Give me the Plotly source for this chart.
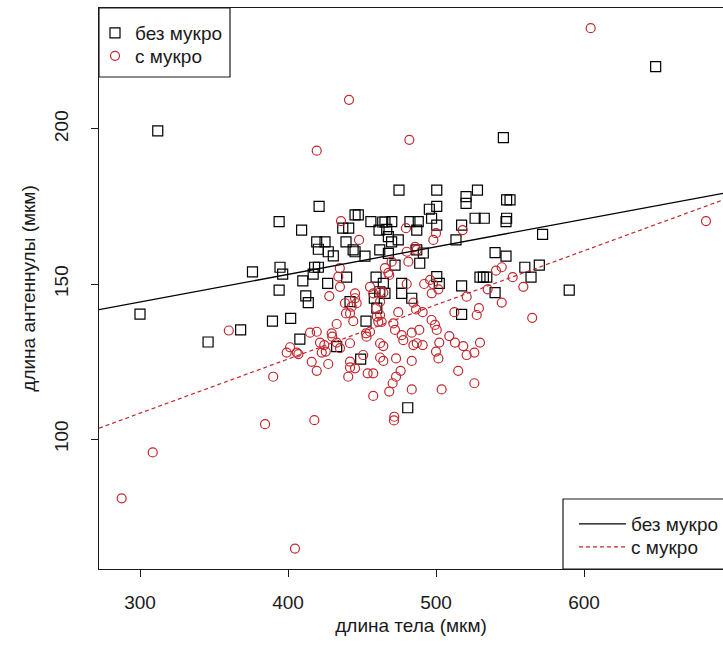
import plotly.graph_objects as go

# ---- data ----
no_mucro_x = [300, 312, 346, 368, 376, 389.5, 394, 409.2, 421, 445.3, 447.5, 437, 441, 456, 464, 465.5,
              419.4, 425, 439.2, 420.5, 427.2, 444, 445.3, 430.6, 452, 394.6, 396.4, 418, 420.5, 417,
              410, 394, 426.8, 439.6, 412, 413.7, 459.5, 464.4, 462, 465.5, 441.9, 458.3, 460, 401.8,
              452.7, 408, 432.9, 449.1, 475, 500.5, 528, 520.3, 520.3, 547.7, 550, 495.5, 500.5, 497,
              526.4, 532.6, 547.7, 547.3, 470.1, 482.4, 488, 500.5, 517.3, 487, 474.5, 470, 467.8,
              513.5, 572, 467.8, 487, 491.4, 489, 472.3, 539.9, 547.3, 560, 569.8, 564.2, 529.7, 532,
              534.3, 500.5, 502.2, 517.3, 539.9, 590, 476.8, 476.8, 483.6, 517.3, 480.9, 545.5, 648.4,
              461.5, 466.7, 462]
no_mucro_y = [140.3, 199.4, 131.3, 135.2, 153.9, 138, 170.1, 167.4, 175, 172.3, 172.3, 168, 168, 170.1, 170, 170,
              163.6, 163.6, 163.6, 161.2, 160.4, 161, 160.4, 159.1, 159, 155.4, 153.2, 155.4, 155.4, 153.2,
              151, 148, 150.2, 152.2, 146.2, 144, 152.2, 150.2, 147.5, 147, 144.3, 145.4, 142.2, 138.9,
              138, 132.2, 129.8, 125.8, 180.3, 180.3, 180.3, 178.2, 176, 177.1, 177.1, 174.1, 175, 171.2,
              171.2, 171.2, 171.2, 170.1, 170.1, 170.1, 170.1, 169, 169, 167.4, 164.2, 163.6, 165.3,
              164.2, 166, 159.9, 161, 160, 156.7, 156.1, 160.1, 159, 155.4, 156.1, 152.2, 152.2, 152.2,
              152.2, 152.4, 150.2, 149.4, 147.2, 148, 150.2, 147, 145.4, 140.2, 110.1, 197.2, 220.1,
              167.4, 167.6, 161]

mucro_x = [287.6, 308.6, 384.5, 404.7, 417.8, 471.6, 480.2, 492, 498, 501.6, 497.1, 462.2, 464.4, 484.7,
           486.5, 491, 474.5, 520.7, 534.9, 544.4, 559, 512.4, 529, 527.5, 565, 462.2, 463.3, 471.2, 472.3,
           497, 499.3, 500.5, 483.6, 488.7, 476.8, 477.9, 462.2, 464.4, 484.7, 487, 491, 502.2, 509, 512.8,
           518.4, 529.7, 525.9, 520.7, 500, 501.6, 462.2, 464.4, 473, 483.6, 476.1, 473, 470.7, 468.4, 515,
           525.9, 483.6, 503.8, 471.8, 414.9, 419.4, 429.5, 429.9, 401.4, 399.1, 405.9, 407, 421.6, 424.5,
           425.5, 422.8, 432.9, 435.1, 441.9, 452.7, 455.4, 416, 427.2, 419.4, 390, 441.9, 441.9, 445.3,
           450.8, 440.7, 453.8, 457.6, 457.6, 419.4, 435.8, 448, 435, 465.5, 467.8, 434, 435.1, 427.9,
           455.4, 457.6, 445.3, 445.3, 446.4, 438.5, 443, 441.9, 444.1, 439.2, 459.5, 460, 461, 432.9,
           453.1, 479.7, 518, 500, 498.2, 485.8, 487, 480.2, 481.3, 470, 468.4, 544.4, 540.5, 551.8, 496,
           682.4, 604.5, 441.2, 482, 360, 462.2]
mucro_y = [80.9, 95.7, 104.8, 64.7, 106.1, 106, 150, 150, 150, 148.3, 147, 147.5, 147.2, 144,
           141.8, 140.9, 140.9, 145.9, 148.3, 144, 149.1, 140.9, 142.2, 140, 139.1, 140, 137.8, 137.3, 135.2,
           138.4, 136.8, 135.2, 134.3, 135.2, 133.5, 131.9, 130.9, 130, 130.3, 130.9, 130.3, 131.1, 133.2, 131.1,
           130, 131.1, 127.9, 127.1, 128.2, 126, 126.3, 125.2, 126, 125.2, 122, 120.1, 118, 115.3, 122,
           118, 116, 116, 107.2, 134.3, 134.6, 134.1, 133, 129.6, 127.9, 127.9, 127.4, 131.1, 130.3,
           128.2, 127.9, 131.1, 129.3, 130.9, 134.1, 134.6, 124.9, 124.2, 122, 120.1, 125, 123.1, 122.8,
           127.1, 120.1, 121.2, 121.2, 113.9, 193, 170.3, 164.2, 155.1, 155.1, 153.6, 152.4, 149.1, 146.1,
           149.1, 147, 147, 145.4, 143.8, 143.8, 142.7, 140.5, 138, 140.5, 142.2, 139.5, 137.8, 137.1,
           133, 168, 167.4, 166.4, 164.2, 162, 161, 160.4, 157.2, 157.2, 152.9, 155.4, 154.3, 152.2, 151.3,
           170.3, 232.5, 209.4, 196.5, 135, 144.3]

# regression lines (intercept, slope)
fit_no_mucro = (117.5, 0.089)
fit_mucro = (55.96, 0.1746)

series_names = ["без мукро", "с мукро"]
x_ticks = [300, 400, 500, 600]
y_ticks = [100, 150, 200]
x_title = "длина тела (мкм)"
y_title = "длина антеннулы (мкм)"

X_RANGE = [272.3, 693.9]
Y_RANGE = [58.1, 239.0]

FONT = "Liberation Sans, Arial, sans-serif"
FS = 19
RED = "#c0282d"
INK = "#1a1a1a"

# plot area in pixels (for placing the legend boxes)
PL, PR, PT, PB = 99, 723, 8, 569
def px_x(p):
    return (p - PL) / (PR - PL)
def px_y(p):
    return (PB - p) / (PB - PT)

fig = go.Figure()
fig.add_trace(go.Scatter(x=no_mucro_x, y=no_mucro_y, mode="markers", name=series_names[0],
                         marker=dict(symbol="square-open", size=10, color="black", line=dict(width=1.2)),
                         legend="legend", showlegend=True))
fig.add_trace(go.Scatter(x=mucro_x, y=mucro_y, mode="markers", name=series_names[1],
                         marker=dict(symbol="circle-open", size=9, color=RED, line=dict(width=1.2)),
                         legend="legend2", showlegend=True))

lx = X_RANGE
for (b0, b1), name, style, lg in [
        (fit_no_mucro, series_names[0], dict(color="black", width=1.3, dash="solid"), "legend3"),
        (fit_mucro, series_names[1], dict(color=RED, width=1.2, dash="4px,3px"), "legend4")]:
    fig.add_trace(go.Scatter(x=lx, y=[b0 + b1 * v for v in lx], mode="lines", name=name,
                             line=style, legend=lg, showlegend=True))

axis_common = dict(showline=True, linecolor=INK, linewidth=1, ticks="outside", ticklen=7,
                   tickcolor=INK, showgrid=False, zeroline=False,
                   tickfont=dict(size=FS, family=FONT, color=INK))

def leg(xpx, ypx, itemwidth):
    return dict(x=px_x(xpx), y=px_y(ypx), xanchor="left", yanchor="top", bgcolor="rgba(0,0,0,0)",
                borderwidth=0, font=dict(size=FS, family=FONT, color=INK), itemwidth=itemwidth,
                tracegroupgap=0, visible=True)

fig.update_layout(
    width=723, height=664,
    showlegend=True,
    margin=dict(l=PL, r=0, t=PT, b=664 - PB, autoexpand=False),
    plot_bgcolor="white", paper_bgcolor="white",
    font=dict(family=FONT, size=FS, color=INK),
    xaxis=dict(range=X_RANGE, tickvals=x_ticks, mirror=True, ticklabelstandoff=9,
               title=dict(text=x_title, font=dict(size=FS, family=FONT, color=INK), standoff=6),
               **axis_common),
    yaxis=dict(range=Y_RANGE, tickvals=y_ticks, tickangle=-90, ticklabelstandoff=15,
               title=dict(text=y_title, font=dict(size=FS, family=FONT, color=INK), standoff=10),
               **axis_common),
    shapes=[
        dict(type="rect", xref="paper", yref="paper", x0=px_x(PL), x1=px_x(230), y0=px_y(77), y1=px_y(PT),
             line=dict(color=INK, width=1.2), fillcolor="white", layer="above"),
        dict(type="rect", xref="paper", yref="paper", x0=px_x(563), x1=px_x(760), y0=px_y(PB), y1=px_y(499),
             line=dict(color=INK, width=1.2), fillcolor="white", layer="above"),
    ],
    legend=leg(95, 14, 30),
    legend2=leg(95, 37, 30),
    legend3=leg(574, 505, 47),
    legend4=leg(574, 528, 47),
)

fig.write_html("out.html")
